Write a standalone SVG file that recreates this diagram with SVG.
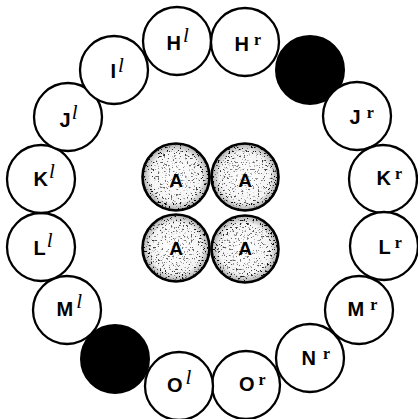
<svg xmlns="http://www.w3.org/2000/svg" width="418" height="419" viewBox="0 0 418 419">
<style>
.ring{fill:#fff;stroke:#000;stroke-width:2.3}
.blk{fill:#000;stroke:#000;stroke-width:2}
.lab{font-family:"Liberation Sans",Arial,sans-serif;font-weight:bold;font-size:20px;fill:#000}
.sl{font-family:"Liberation Serif","Times New Roman",serif;font-style:italic;font-weight:normal;font-size:21px}
.sr{font-family:"Liberation Serif","Times New Roman",serif;font-weight:bold;font-size:16px}
.ctr{fill:url(#grad)}
.spk{fill:url(#spkgrad)}
.cedge{fill:none;stroke:#000;stroke-width:2.6}
.cA{font-family:"Liberation Sans",Arial,sans-serif;font-weight:bold;font-size:19px;fill:#000;text-anchor:middle}
</style>
<defs>
<radialGradient id="grad" cx="0.5" cy="0.5" r="0.5">
<stop offset="0" stop-color="#fff"/>
<stop offset="0.75" stop-color="#f4f4f4"/>
<stop offset="0.93" stop-color="#bbb"/>
<stop offset="1" stop-color="#444"/>
</radialGradient>
<radialGradient id="spkgrad" cx="0.5" cy="0.5" r="0.5">
<stop offset="0" stop-color="#000" stop-opacity="0.45"/>
<stop offset="0.6" stop-color="#000" stop-opacity="0.6"/>
<stop offset="0.85" stop-color="#000" stop-opacity="0.95"/>
<stop offset="1" stop-color="#000" stop-opacity="1"/>
</radialGradient>
<filter id="speck" x="-5%" y="-5%" width="110%" height="110%">
<feTurbulence type="fractalNoise" baseFrequency="0.55" numOctaves="2" seed="11" result="noise"/>
<feColorMatrix in="noise" type="matrix" values="0 0 0 0 0  0 0 0 0 0  0 0 0 0 0  9 0 0 0 -5.4" result="dots"/>
<feComposite in="dots" in2="SourceGraphic" operator="in"/>
</filter>
</defs>
<rect width="418" height="419" fill="#fff"/>

<g id="node-Hl"><circle class="ring" cx="177" cy="41" r="34"/><text class="lab" x="166.5" y="50">H<tspan class="sl" dx="2" dy="-8">l</tspan></text></g>
<g id="node-Hr"><circle class="ring" cx="245" cy="42" r="34"/><text class="lab" x="234.5" y="51">H<tspan class="sr" dx="5" dy="-6">r</tspan></text></g>
<g id="node-black-top"><circle class="blk" cx="310" cy="70" r="34"/></g>
<g id="node-Jr"><circle class="ring" cx="357" cy="116" r="34"/><text class="lab" x="349.5" y="124">J<tspan class="sr" dx="6" dy="-6">r</tspan></text></g>
<g id="node-Kr"><circle class="ring" cx="383" cy="179" r="34"/><text class="lab" x="376.5" y="185">K<tspan class="sr" dx="4" dy="-6">r</tspan></text></g>
<g id="node-Lr"><circle class="ring" cx="384" cy="246" r="34"/><text class="lab" x="378.5" y="254">L<tspan class="sr" dx="4" dy="-6">r</tspan></text></g>
<g id="node-Mr"><circle class="ring" cx="359" cy="310" r="34"/><text class="lab" x="347.5" y="316">M<tspan class="sr" dx="6" dy="-6">r</tspan></text></g>
<g id="node-Nr"><circle class="ring" cx="310" cy="358" r="34"/><text class="lab" x="301.5" y="365">N<tspan class="sr" dx="7" dy="-6">r</tspan></text></g>
<g id="node-Or"><circle class="ring" cx="246" cy="385" r="34"/><text class="lab" x="239" y="391">O<tspan class="sr" dx="4" dy="-6">r</tspan></text></g>
<g id="node-Ol"><circle class="ring" cx="179" cy="386" r="34"/><text class="lab" x="167" y="392">O<tspan class="sl" dx="3" dy="-8">l</tspan></text></g>
<g id="node-black-bottom"><circle class="blk" cx="115" cy="359" r="34"/></g>
<g id="node-Ml"><circle class="ring" cx="67" cy="310" r="34"/><text class="lab" x="56.5" y="316">M<tspan class="sl" dx="3" dy="-8">l</tspan></text></g>
<g id="node-Ll"><circle class="ring" cx="41" cy="247" r="34"/><text class="lab" x="33.5" y="255">L<tspan class="sl" dx="1" dy="-8">l</tspan></text></g>
<g id="node-Kl"><circle class="ring" cx="41" cy="179" r="34"/><text class="lab" x="33.5" y="186">K<tspan class="sl" dx="1" dy="-8">l</tspan></text></g>
<g id="node-Jl"><circle class="ring" cx="68" cy="117" r="34"/><text class="lab" x="59.5" y="127">J<tspan class="sl" dx="1" dy="-8">l</tspan></text></g>
<g id="node-Il"><circle class="ring" cx="114" cy="70" r="34"/><text class="lab" x="110.5" y="78">I<tspan class="sl" dx="2" dy="-6">l</tspan></text></g>

<g id="node-A1"><circle class="ctr" cx="176" cy="177" r="34"/><circle class="spk" cx="176" cy="177" r="33" filter="url(#speck)"/><circle class="cedge" cx="176" cy="177" r="33.5"/><text class="cA" x="176" y="187">A</text></g>
<g id="node-A2"><circle class="ctr" cx="245" cy="177" r="34"/><circle class="spk" cx="245" cy="177" r="33" filter="url(#speck)"/><circle class="cedge" cx="245" cy="177" r="33.5"/><text class="cA" x="245" y="187">A</text></g>
<g id="node-A3"><circle class="ctr" cx="176" cy="248" r="34"/><circle class="spk" cx="176" cy="248" r="33" filter="url(#speck)"/><circle class="cedge" cx="176" cy="248" r="33.5"/><text class="cA" x="176" y="255">A</text></g>
<g id="node-A4"><circle class="ctr" cx="245" cy="249" r="34"/><circle class="spk" cx="245" cy="249" r="33" filter="url(#speck)"/><circle class="cedge" cx="245" cy="249" r="33.5"/><text class="cA" x="245" y="255">A</text></g>
</svg>
